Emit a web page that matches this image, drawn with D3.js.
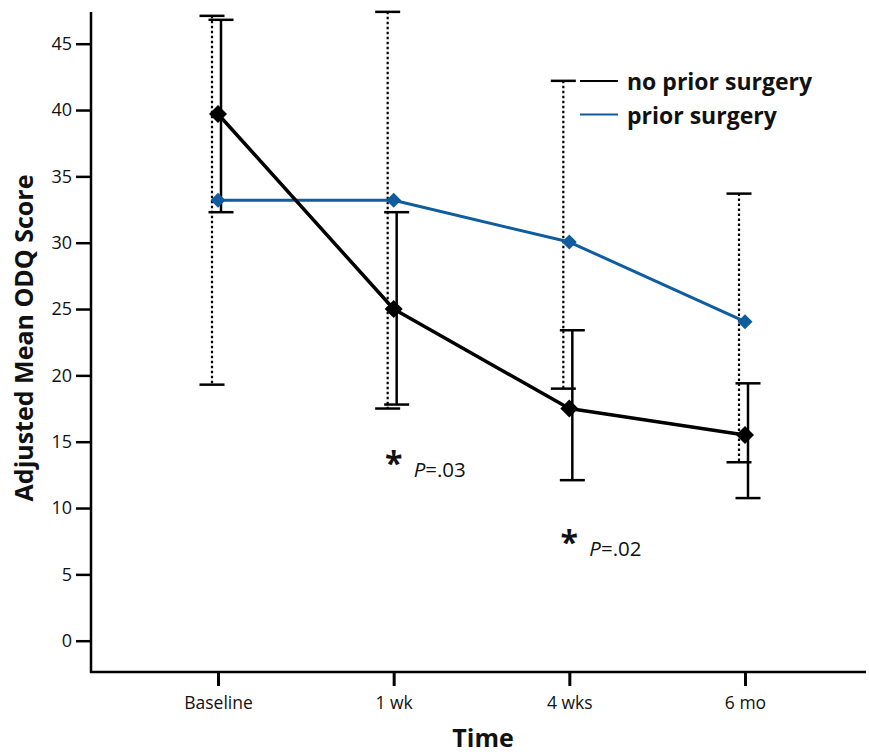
<!DOCTYPE html>
<html>
<head>
<meta charset="utf-8">
<script src="https://cdn.jsdelivr.net/npm/d3@7"></script>
<style>
    body { margin: 0; background: #fff; }
    text { font-family: "Open Sans", "Noto Sans", sans-serif; fill: #111; }
</style>
</head>
<body>
<div id="chart"></div>
<script>
"use strict";

// categories on the time axis
var timepoints = ["Baseline", "1 wk", "4 wks", "6 mo"];

// no prior surgery (black, solid error bars)
var noPriorMean  = [39.7, 25.0, 17.5, 15.5];
var noPriorUpper = [46.8, 32.3, 23.4, 19.4];
var noPriorLower = [32.3, 17.8, 12.1, 10.75];

// prior surgery (blue, dotted error bars)
var priorMean  = [33.2, 33.2, 30.05, 24.05];
var priorUpper = [47.1, 47.4, 42.2, 33.7];
var priorLower = [19.3, 17.5, 19.0, 13.45];

var yTicks = [0, 5, 10, 15, 20, 25, 30, 35, 40, 45];

// significance notes under the 1 wk and 4 wks points
var notes = [
    {at: "1 wk", value: 13.8, label: ".03"},
    {at: "4 wks", value: 7.8, label: ".02"}
];

var legendItems = [
    {name: "no prior surgery", color: "#000"},
    {name: "prior surgery", color: "#0f5c9e"}
];

(function () {
    var W = 869, H = 755;
    var BLUE = "#0f5c9e";

    var svg = d3.select("#chart").append("svg")
        .attr("width", W)
        .attr("height", H);

    // plot frame
    var frame = {left: 91, right: 866, top: 12, bottom: 672};

    var x = d3.scalePoint()
        .domain(timepoints)
        .range([218, 745]);

    var y = d3.scaleLinear()
        .domain([0, 45])
        .range([640.7, 43.7]);

    // axes
    var yAxis = svg.append("g")
        .attr("transform", "translate(" + frame.left + ",0)")
        .call(d3.axisLeft(y).tickValues(yTicks).tickSize(15).tickPadding(4));
    yAxis.select(".domain").remove();
    yAxis.selectAll(".tick line").attr("stroke", "#000").attr("stroke-width", 2.5);
    yAxis.selectAll(".tick text")
        .style("font-size", "18px")
        .attr("fill", "#111");

    var xAxis = svg.append("g")
        .attr("transform", "translate(0," + frame.bottom + ")")
        .call(d3.axisBottom(x).tickSize(14).tickPadding(11));
    xAxis.select(".domain").remove();
    xAxis.selectAll(".tick line").attr("stroke", "#000").attr("stroke-width", 3);
    xAxis.selectAll(".tick text")
        .style("font-size", "17.5px")
        .attr("fill", "#111");

    svg.append("line")
        .attr("x1", frame.left).attr("x2", frame.left)
        .attr("y1", frame.top).attr("y2", frame.bottom + 1)
        .attr("stroke", "#000").attr("stroke-width", 2.5);
    svg.append("line")
        .attr("x1", frame.left - 1).attr("x2", frame.right)
        .attr("y1", frame.bottom).attr("y2", frame.bottom)
        .attr("stroke", "#000").attr("stroke-width", 2.5);

    // axis titles
    svg.append("text")
        .attr("transform", "translate(33,338) rotate(-90)")
        .attr("text-anchor", "middle")
        .style("font-size", "25px")
        .style("font-weight", "bold")
        .text("Adjusted Mean ODQ Score");

    svg.append("text")
        .attr("x", 483).attr("y", 747)
        .attr("text-anchor", "middle")
        .style("font-size", "25px")
        .style("font-weight", "bold")
        .text("Time");

    // error bars, the two groups are nudged a bit sideways like the original
    function errorBars(upper, lower, dx, dotted) {
        var g = svg.append("g");
        var capHalf = 12.5;
        timepoints.forEach(function (t, i) {
            var cx = x(t) + dx;
            g.append("line")
                .attr("x1", cx).attr("x2", cx)
                .attr("y1", y(upper[i])).attr("y2", y(lower[i]))
                .attr("stroke", "#000")
                .attr("stroke-width", dotted ? 2.2 : 2.5)
                .attr("stroke-dasharray", dotted ? "2.5,2.5" : null);
            [upper[i], lower[i]].forEach(function (v) {
                g.append("line")
                    .attr("x1", cx - capHalf).attr("x2", cx + capHalf)
                    .attr("y1", y(v)).attr("y2", y(v))
                    .attr("stroke", "#000")
                    .attr("stroke-width", 2.5);
            });
        });
    }

    errorBars(priorUpper, priorLower, -6, true);
    errorBars(noPriorUpper, noPriorLower, 3, false);

    // series lines + diamond markers
    var line = d3.line()
        .x(function (d, i) { return x(timepoints[i]); })
        .y(function (d) { return y(d); });

    function series(values, color, width, diag) {
        svg.append("path")
            .datum(values)
            .attr("fill", "none")
            .attr("stroke", color)
            .attr("stroke-width", width)
            .attr("stroke-linejoin", "round")
            .attr("d", line);

        var side = diag / Math.SQRT2;
        var sym = d3.symbol().type(d3.symbolSquare).size(side * side);
        svg.append("g").selectAll("path")
            .data(values)
            .enter().append("path")
            .attr("d", sym)
            .attr("fill", color)
            .attr("transform", function (d, i) {
                return "translate(" + x(timepoints[i]) + "," + y(d) + ") rotate(45)";
            });
    }

    series(priorMean, BLUE, 3, 15);
    series(noPriorMean, "#000", 3.5, 18);

    // legend
    var legend = svg.append("g").attr("transform", "translate(580,81)");
    legendItems.forEach(function (d, i) {
        var row = legend.append("g").attr("transform", "translate(0," + (i * 33.5) + ")");
        row.append("line")
            .attr("x1", 0).attr("x2", 38)
            .attr("stroke", d.color)
            .attr("stroke-width", 2.2);
        row.append("text")
            .attr("x", 47).attr("y", 9)
            .style("font-size", "23px")
            .style("font-weight", "bold")
            .text(d.name);
    });

    // * P=.xx notes
    notes.forEach(function (n) {
        var nx = x(n.at), ny = y(n.value);
        svg.append("text")
            .attr("x", nx).attr("y", ny + 17)
            .attr("text-anchor", "middle")
            .style("font-size", "32px")
            .style("font-weight", "bold")
            .text("*");
        var t = svg.append("text")
            .attr("x", nx + 20).attr("y", ny + 19)
            .style("font-size", "20.5px");
        t.append("tspan").style("font-style", "italic").text("P");
        t.append("tspan").text("=" + n.label);
    });
})();
</script>
</body>
</html>
